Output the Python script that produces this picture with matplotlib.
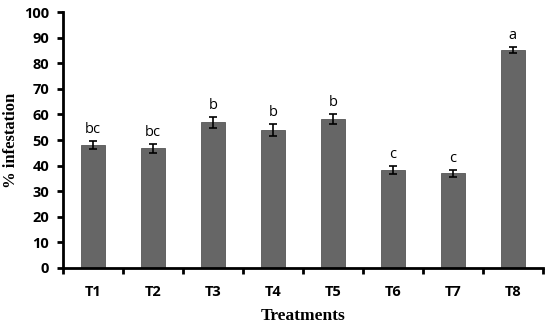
#bar chart of % infestation per treatment, with SE bars and letters
import numpy as np
import matplotlib.pyplot as plt

treatments = ['T1', 'T2', 'T3', 'T4', 'T5', 'T6', 'T7', 'T8']
infestation = [48.0, 46.8, 56.9, 53.9, 58.2, 38.3, 37.0, 85.2]
errors = [1.6, 1.8, 2.1, 2.3, 2.0, 1.6, 1.3, 1.1]
letters = ['bc', 'bc', 'b', 'b', 'b', 'c', 'c', 'a']

fig = plt.figure(figsize=(5.5, 3.25), dpi=100)
ax = fig.add_axes([0.1145, 0.1754, 0.8725, 0.7876])

x = np.arange(len(treatments))
ax.bar(x, infestation, width=0.4, color='#666666', edgecolor='#555555', linewidth=0.6)
ax.errorbar(x, infestation, yerr=errors, fmt='none', ecolor='black',
            elinewidth=1.2, capsize=3, capthick=1.2)

#letters just above the error bars
for xi, v, e, lab in zip(x, infestation, errors, letters):
    ax.text(xi, v + e + 1.5, lab, ha='center', va='bottom', fontsize=10.5,
            family='Open Sans')

ax.set_xlim(-0.5, len(treatments) - 0.5)
ax.set_ylim(0, 100)
ax.set_yticks(range(0, 101, 10))

#ticks between categories, labels at the centres
ax.set_xticks(np.arange(-0.5, len(treatments), 1.0))
ax.set_xticklabels([])
ax.set_xticks(x, minor=True)
ax.set_xticklabels(treatments, minor=True)
ax.tick_params(axis='x', which='minor', length=0, pad=12)
ax.tick_params(axis='x', which='major', direction='out', length=4, width=2)
ax.tick_params(axis='y', direction='out', length=4, width=2, pad=6)

for lab in ax.get_xticklabels(minor=True) + ax.get_yticklabels():
    lab.set_fontweight('bold')
    lab.set_fontsize(10.5)
    lab.set_family('Open Sans')

for s in ['top', 'right']:
    ax.spines[s].set_visible(False)
for s in ['left', 'bottom']:
    ax.spines[s].set_linewidth(2)

ax.set_ylabel('% infestation', family='Liberation Serif', fontweight='bold',
              fontsize=12)
ax.yaxis.set_label_coords(-0.092, 0.5)
ax.set_xlabel('Treatments', family='Liberation Serif', fontweight='bold',
              fontsize=12.5)
ax.xaxis.set_label_coords(0.5, -0.155)

fig.savefig('out.png', dpi=100)
